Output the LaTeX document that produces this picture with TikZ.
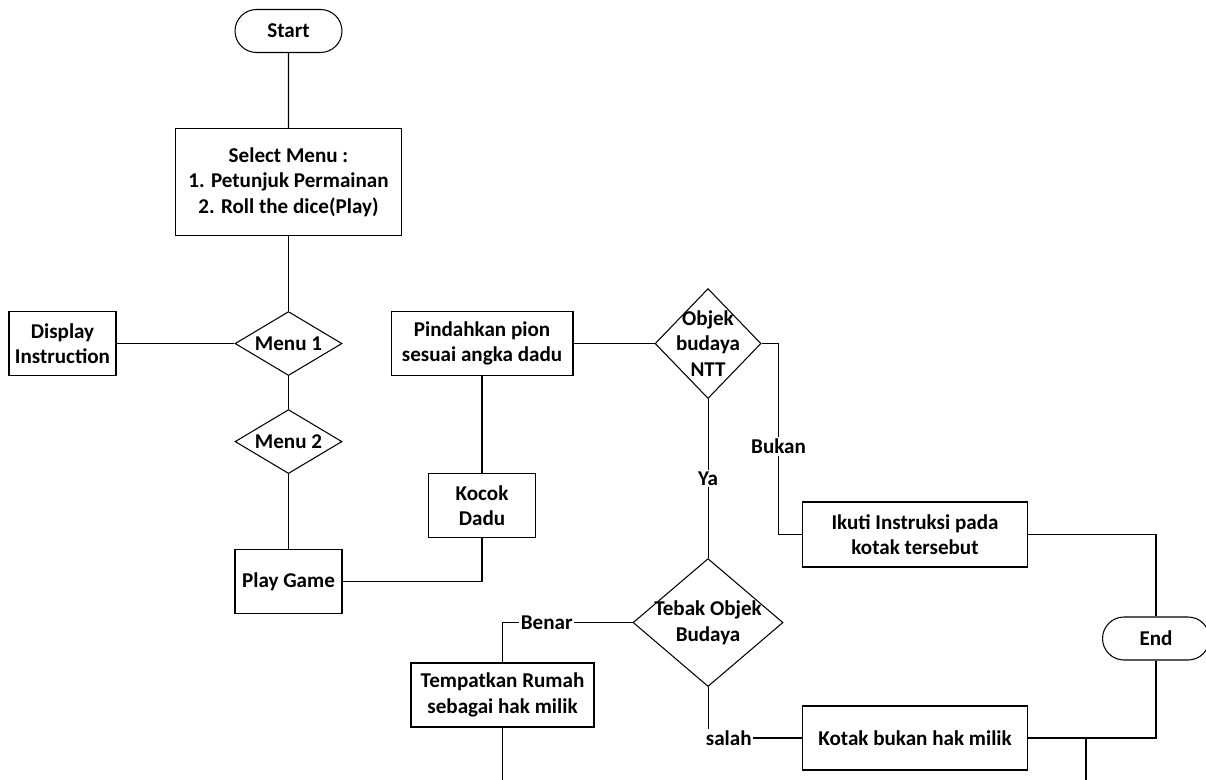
\documentclass[tikz,border=0pt]{standalone}
\usepackage{fontspec}
\setmainfont{Carlito}
\usetikzlibrary{shapes,positioning}
\tikzset{
  terminal/.style={draw, rounded rectangle, minimum width=2.14cm, minimum height=0.86cm, inner sep=0pt},
  process/.style={draw, rectangle, align=center, minimum width=2.14cm, minimum height=1.28cm, inner sep=2pt},
  decision/.style={draw, diamond, inner sep=0pt, minimum width=2.14cm, minimum height=1.28cm},
  tag/.style={fill=white, inner sep=1pt}
}

\begin{document}
\begin{tikzpicture}[x=0.02cm, y=-0.02cm, line width=0.6pt, font=\fontsize{12}{14.5}\selectfont\bfseries]
    \useasboundingbox (0,0) rectangle (1206,780);

    \node[terminal] (start) at (288.5,31) {Start};
    \node[process, minimum width=4.52cm, minimum height=2.14cm] (select) [below=1.5cm of start] {Select Menu :\\1. Petunjuk Permainan\\2. Roll the dice(Play)};
    \node[decision, label=center:Menu 1] (menu1) [below=1.5cm of select] {};
    \node[process] (display) [left=2.36cm of menu1] {Display\\Instruction};
    \node[decision, label=center:Menu 2] (menu2) [below=0.66cm of menu1] {};
    \node[process] (play) [below=1.5cm of menu2] {Play Game};
    \path (start) edge (select)
          (select) edge (menu1)
          (display) edge (menu1)
          (menu1) edge (menu2)
          (menu2) edge (play);

    \node[process, minimum width=3.64cm] (pindah) [right=0.96cm of menu1] {Pindahkan pion\\sesuai angka dadu};
    \node[process] (kocok) [below=1.94cm of pindah] {Kocok\\Dadu};
    \draw (play) -| (kocok);
    \path (kocok) edge (pindah);

    \node[decision, minimum width=2.12cm, minimum height=2.2cm, label={[align=center]center:Objek\\budaya\\NTT}] (objek) [right=1.62cm of pindah] {};
    \node[decision, minimum width=3cm, minimum height=2.56cm, label={[align=center]center:Tebak Objek\\Budaya}] (tebak) [below=3.18cm of objek] {};
    \path (pindah) edge (objek)
          (objek) edge node[tag] {Ya} (tebak);

    \node[process, minimum width=3.66cm] (tempat) at (502.5,695) {Tempatkan Rumah\\sebagai hak milik};
    \node[process, minimum width=4.5cm, minimum height=1.3cm] (ikuti) at (915,534.5) {Ikuti Instruksi pada\\kotak tersebut};
    \node[process, minimum width=4.5cm] (kotak) at (915,738) {Kotak bukan hak milik};
    \node[terminal] (end) at (1156,638.5) {End};

    \coordinate[right=0.34cm of objek.east] (bukanturn);
    \draw (objek.east) -- (bukanturn) |- node[tag, pos=0.27] {Bukan} (ikuti.west);
    \draw (tebak.west) -| node[tag, pos=0.33] {Benar} (tempat.north);
    \draw (tebak.south) |- node[tag, pos=0.61] {salah} (kotak.west);
    \draw (ikuti.east) -| (end.north);
    \draw (kotak.east) -| (end.south);

    % lines running on below the page
    \coordinate (tempatout) at (tempat.south |- 0,780);
    \coordinate (kotakjoin) at (1086,738);
    \coordinate (kotakout) at (1086,780);
    \draw (tempat.south) -- (tempatout);
    \draw (kotakjoin) -- (kotakout);
\end{tikzpicture}
\end{document}
